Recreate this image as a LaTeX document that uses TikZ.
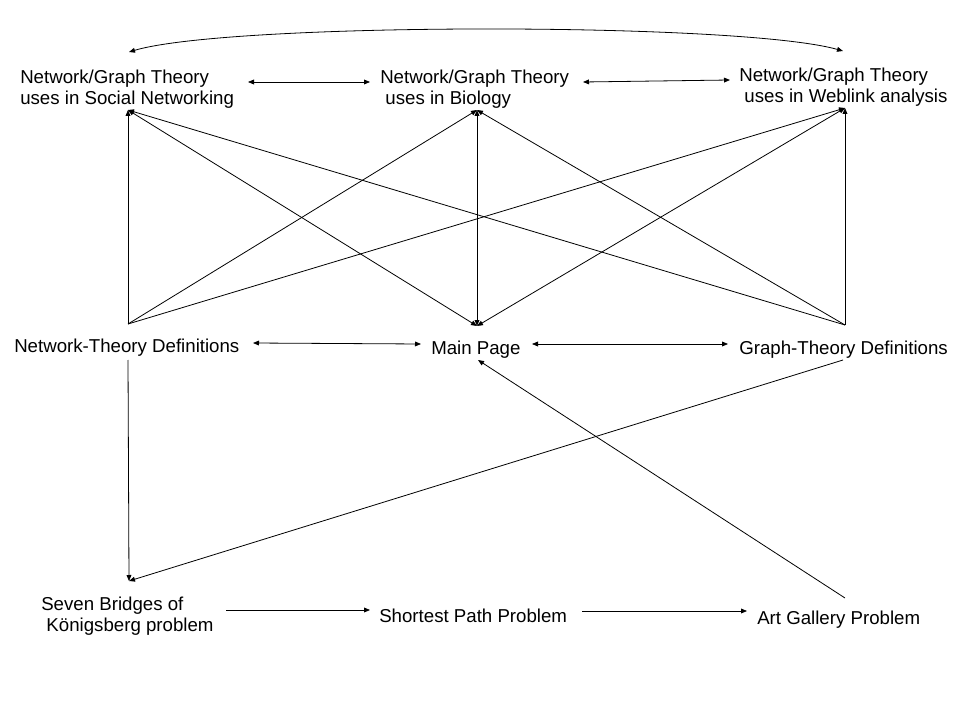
\documentclass[tikz,border=0pt]{standalone}
\usepackage{fontspec}
\setmainfont{Liberation Sans}
\usetikzlibrary{arrows.meta}
\tikzset{
  lbl/.style={anchor=west, inner sep=0pt, align=left, font=\fontsize{14}{16}\selectfont},
  conn/.style={line width=0.6pt, arrows={-Triangle[length=4.5pt,width=3.6pt]}},
  conn2/.style={line width=0.6pt, arrows={Triangle[length=4.5pt,width=3.6pt]-Triangle[length=4.5pt,width=3.6pt]}},
  plain/.style={line width=0.6pt}
}
\begin{document}
\begin{tikzpicture}[x=0.75pt,y=-0.75pt]
\useasboundingbox (0,0) rectangle (960,720);
% text nodes
\node[lbl] (soc) at (20,89) {Network/Graph Theory\\uses in Social Networking};
\node[lbl] (bio) at (380,89) {Network/Graph Theory\\\hspace*{3.9pt}uses in Biology};
\node[lbl] (web) at (739,87) {Network/Graph Theory\\\hspace*{3.9pt}uses in Weblink analysis};
\node[lbl] (ntd) at (14,348) {Network-Theory Definitions};
\node[lbl] (main) at (431,350) {Main Page};
\node[lbl] (gtd) at (739,350) {Graph-Theory Definitions};
\node[lbl] (sev) at (41,616) {Seven Bridges of\\\hspace*{3.9pt}Königsberg problem};
\node[lbl] (sp) at (379,616) {Shortest Path Problem};
\node[lbl] (art) at (757,620) {Art Gallery Problem};
% connection points
\coordinate (socT) at (129,52);
\coordinate (webT) at (843,51);
\coordinate (socB) at (128,110);
\coordinate (bioB) at (477,110);
\coordinate (webB) at (845,108);
\coordinate (ntdT) at (128,324);
\coordinate (mainT) at (477,326);
\coordinate (gtdT) at (845,325);
\coordinate (ntdB) at (128,360);
\coordinate (gtdB) at (843,360);
\coordinate (mainB) at (478,360);
\coordinate (sevT) at (129,581);
\coordinate (artT) at (845,598);
\coordinate (socR) at (248,82);
\coordinate (bioL) at (370,82);
\coordinate (bioR) at (583,82);
\coordinate (webL) at (730,80);
\coordinate (ntdR) at (253,343);
\coordinate (mainL) at (421,344);
\coordinate (mainR) at (532,344);
\coordinate (gtdL) at (728,344);
\coordinate (sevR) at (226,610);
\coordinate (spL) at (370,610);
\coordinate (spR) at (582,611);
\coordinate (artL) at (747,611);
% top curve
\draw[conn2] (socT) .. controls (230,22) and (740,22) .. (webT);
% horizontal connectors
\draw[conn2] (socR) -- (bioL);
\draw[conn2] (bioR) -- (webL);
\draw[conn2] (ntdR) -- (mainL);
\draw[conn2] (mainR) -- (gtdL);
\draw[conn] (sevR) -- (spL);
\draw[conn] (spR) -- (artL);
% from Network-Theory Definitions
\draw[conn] (ntdT) -- (socB);
\draw[conn] (ntdT) -- (bioB);
\draw[conn] (ntdT) -- (webB);
% from Graph-Theory Definitions
\draw[conn] (gtdT) -- (socB);
\draw[conn] (gtdT) -- (bioB);
\draw[conn] (gtdT) -- (webB);
% to Main Page
\draw[conn2] (socB) -- (mainT);
\draw[conn2] (bioB) -- (mainT);
\draw[conn2] (webB) -- (mainT);
% lower part
\draw[conn] (ntdB) -- (sevT);
\draw[conn] (gtdB) -- (sevT);
\draw[conn] (artT) -- (mainB);
\end{tikzpicture}
\end{document}
